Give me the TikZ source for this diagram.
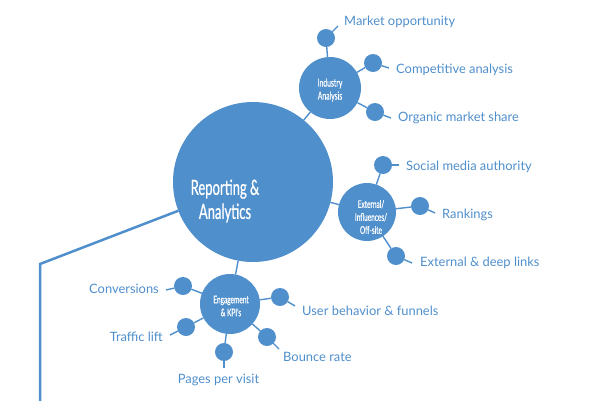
\documentclass[tikz,border=0pt]{standalone}
\usepackage{fontspec}
\setmainfont{Lato}
\newfontfamily\condf[FakeStretch=0.62,FakeBold=0.6]{Lato}
\definecolor{blu}{RGB}{79,143,204}
\begin{document}
\begin{tikzpicture}[x=1pt,y=-1pt,
  bub/.style={circle,fill=blu,inner sep=0pt,outer sep=0pt},
  dot/.style={bub,minimum size=18pt},
  conn/.style={draw=blu,line width=1.4pt},
  lbl/.style={text=blu,font=\fontsize{12.9}{16}\selectfont,inner sep=0pt},
  ctext/.style={text=white,align=center,inner sep=0pt}]
\useasboundingbox (0,0) rectangle (600,400);
% hubs
\node[bub,minimum size=160pt] (main) at (253,182) {};
\node[bub,minimum size=62pt] (ind) at (330,88) {};
\node[bub,minimum size=58pt] (ext) at (367,212) {};
\node[bub,minimum size=60pt] (eng) at (230,304) {};
% small dots
\node[dot] (m1) at (326,38) {};
\node[dot] (m2) at (373,63) {};
\node[dot] (m3) at (375,112) {};
\node[dot] (e1) at (383,165) {};
\node[dot] (e2) at (420,206) {};
\node[dot] (e3) at (396,256) {};
\node[dot] (g1) at (183,286) {};
\node[dot] (g2) at (186,327) {};
\node[dot] (g3) at (224,352) {};
\node[dot] (g4) at (267,337) {};
\node[dot] (g5) at (280,297) {};
% tick ends
\coordinate (tm1) at (338,26);
\coordinate (tm2) at (389,68);
\coordinate (tm3) at (391,118);
\coordinate (te1) at (399,165);
\coordinate (te2) at (435,213);
\coordinate (te3) at (412,263);
\coordinate (tg1) at (166,290);
\coordinate (tg2) at (170,335);
\coordinate (tg3) at (224,368);
\coordinate (tg4) at (279,349);
\coordinate (tg5) at (295,306);
% connectors
\draw[conn] (main) -- (ind);
\draw[conn] (main) -- (ext);
\draw[conn] (main) -- (eng);
\foreach \s in {m1,m2,m3} \draw[conn] (ind) -- (\s);
\foreach \s in {e1,e2,e3} \draw[conn] (ext) -- (\s);
\foreach \s in {g1,g2,g3,g4,g5} \draw[conn] (eng) -- (\s);
\foreach \s in {m1,m2,m3,e1,e2,e3,g1,g2,g3,g4,g5} \draw[conn] (\s) -- (t\s);
% long bracket line
\coordinate (b0) at (40,402);
\coordinate (b1) at (40,264);
\draw[draw=blu,line width=2.5pt,line join=miter] (b0) -- (b1) -- (main);
% hub texts
\node[ctext,font=\condf\fontsize{21}{24}\selectfont] (tmain) at (225,201) {Reporting \&\\Analytics};
\node[ctext,font=\condf\fontsize{11}{13}\selectfont] (tind) at (330,90) {Industry\\Analysis};
\node[ctext,font=\condf\fontsize{10.5}{13}\selectfont] (text) at (371,217) {External/\\Influences/\\Off-site};
\node[ctext,font=\condf\fontsize{10.5}{13}\selectfont] (teng) at (231,306) {Engagement\\\& KPI's};
% labels
\node[lbl,anchor=base west] (lm1) at (344,25) {Market opportunity};
\node[lbl,anchor=base west] (lm2) at (396,73.3) {Competitive analysis};
\node[lbl,anchor=base west] (lm3) at (398,121.7) {Organic market share};
\node[lbl,anchor=base west] (le1) at (406,170) {Social media authority};
\node[lbl,anchor=base west] (le2) at (442,218.7) {Rankings};
\node[lbl,anchor=base west] (le3) at (420,266.7) {External \& deep links};
\node[lbl,anchor=base east] (lg1) at (159,293.3) {Conversions};
\node[lbl,anchor=base east] (lg2) at (163,341.7) {Traffic lift};
\node[lbl,anchor=base] (lg3) at (218.5,383.3) {Pages per visit};
\node[lbl,anchor=base west] (lg4) at (283,361.7) {Bounce rate};
\node[lbl,anchor=base west] (lg5) at (302,315) {User behavior \& funnels};
\end{tikzpicture}
\end{document}
